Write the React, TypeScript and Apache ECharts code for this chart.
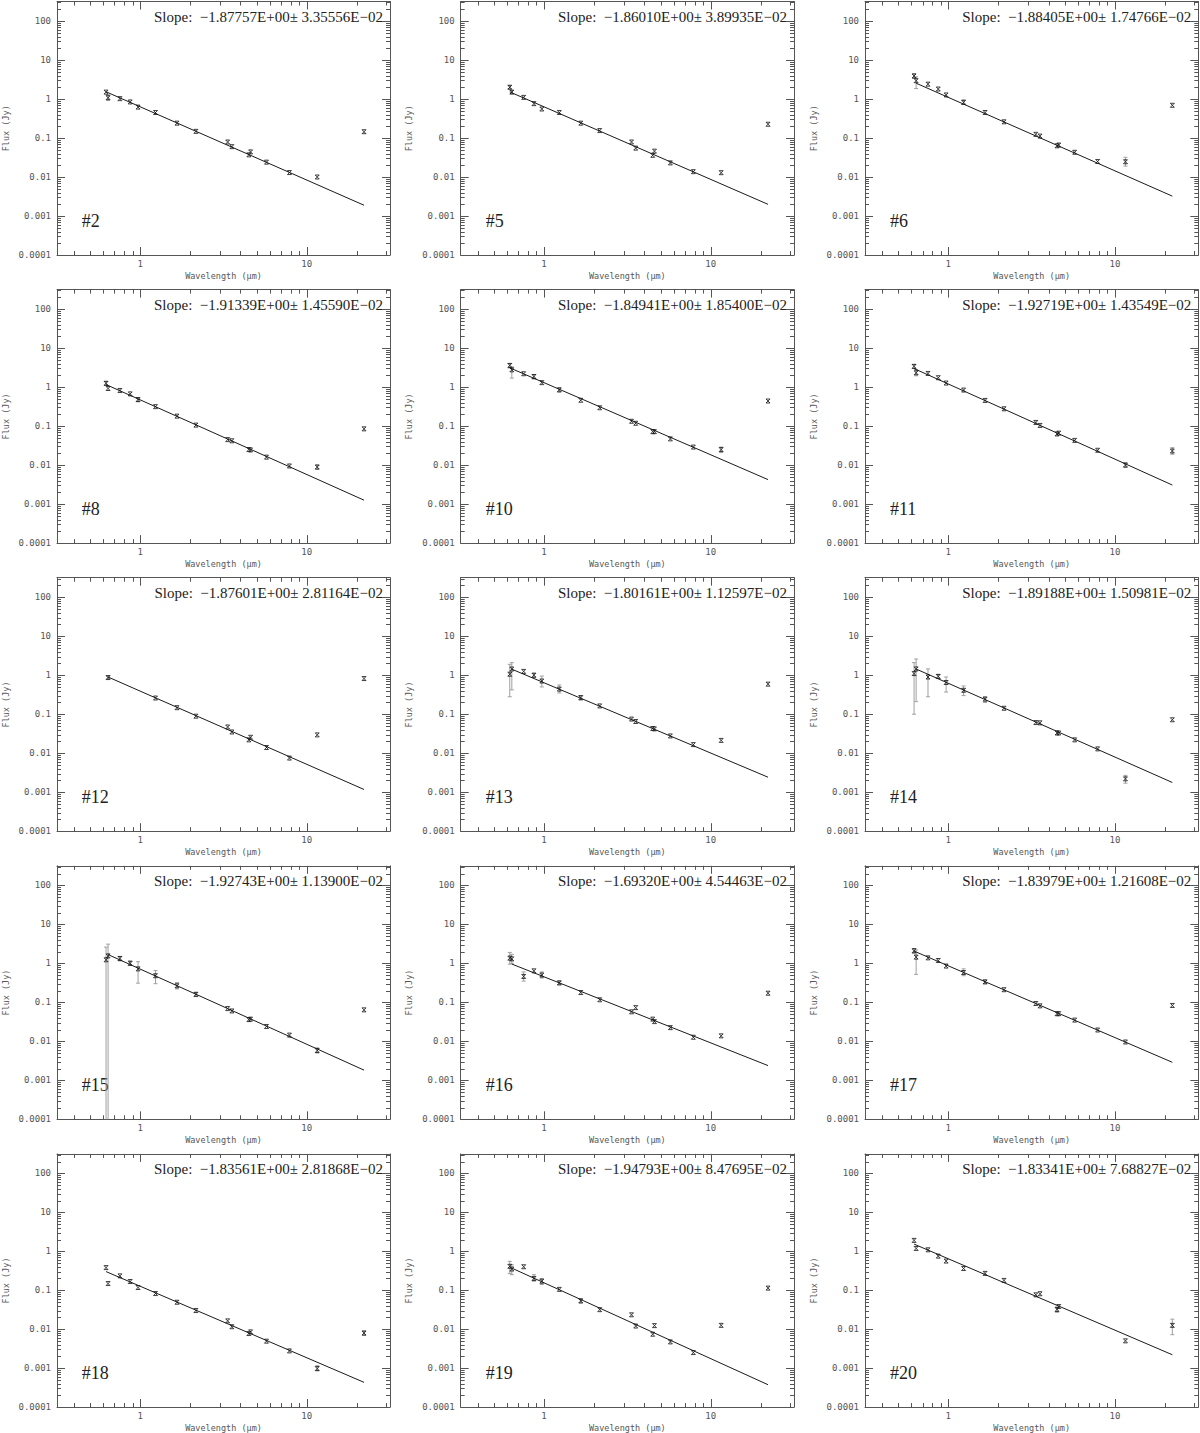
import React, { useEffect, useRef } from "react";
import * as echarts from "echarts";

// ---- data ----
const WAVELENGTHS = [0.623, 0.641, 0.755, 0.87, 0.97, 1.235, 1.662, 2.159, 3.35, 3.55, 4.49, 4.6, 5.73, 7.87, 11.56, 22.09];

const X_TICK_VALUES = [1, 10];
const X_TICK_LABELS = ["1", "10"];
const Y_TICK_VALUES = [0.0001, 0.001, 0.01, 0.1, 1, 10, 100];
const Y_TICK_LABELS = ["0.0001", "0.001", "0.01", "0.1", "1", "10", "100"];
const X_MINOR_TICKS = [0.4, 0.5, 0.6, 0.7, 0.8, 0.9, 2, 3, 4, 5, 6, 7, 8, 9, 20, 30];
const Y_MINOR_MULT = [2, 3, 4, 5, 6, 7, 8, 9];

const LABELS = ["#2", "#5", "#6", "#8", "#10", "#11", "#12", "#13", "#14", "#15", "#16", "#17", "#18", "#19", "#20"];
const SLOPE_TEXT = [
  ["−1.87757E+00", "3.35556E−02"],
  ["−1.86010E+00", "3.89935E−02"],
  ["−1.88405E+00", "1.74766E−02"],
  ["−1.91339E+00", "1.45590E−02"],
  ["−1.84941E+00", "1.85400E−02"],
  ["−1.92719E+00", "1.43549E−02"],
  ["−1.87601E+00", "2.81164E−02"],
  ["−1.80161E+00", "1.12597E−02"],
  ["−1.89188E+00", "1.50981E−02"],
  ["−1.92743E+00", "1.13900E−02"],
  ["−1.69320E+00", "4.54463E−02"],
  ["−1.83979E+00", "1.21608E−02"],
  ["−1.83561E+00", "2.81868E−02"],
  ["−1.94793E+00", "8.47695E−02"],
  ["−1.83341E+00", "7.68827E−02"],
];
const SLOPES = [-1.87757, -1.8601, -1.88405, -1.91339, -1.84941, -1.92719, -1.87601, -1.80161, -1.89188, -1.92743, -1.6932, -1.83979, -1.83561, -1.94793, -1.83341];
// fitted flux at 1 micron, and fit start wavelength
const FIT_AMP = [0.63, 0.63, 1.1, 0.47, 1.3, 1.2, 0.39, 0.64, 0.62, 0.71, 0.45, 0.86, 0.126, 0.155, 0.64];
const FIT_FROM = [0.623, 0.623, 0.641, 0.623, 0.623, 0.623, 0.641, 0.641, 0.641, 0.641, 0.641, 0.623, 0.623, 0.641, 0.623];
const FIT_TO = 22.09;

const F2 = [1.5, 1.08, 1.02, 0.84, 0.62, 0.45, 0.24, 0.148, 0.079, 0.06, 0.037, 0.044, 0.024, 0.013, 0.01, 0.145];
const F5 = [2.0, 1.5, 1.1, 0.76, 0.555, 0.45, 0.24, 0.155, 0.079, 0.055, 0.036, 0.046, 0.023, 0.0137, 0.0129, 0.225];
const F6 = [3.9, 2.95, 2.4, 1.8, 1.27, 0.82, 0.45, 0.26, 0.124, 0.112, 0.063, 0.066, 0.043, 0.025, 0.0246, 0.69];
const F8 = [1.25, 0.92, 0.82, 0.67, 0.48, 0.315, 0.18, 0.106, 0.045, 0.042, 0.025, 0.0245, 0.016, 0.0095, 0.0089, 0.085];
const F10 = [3.6, 2.77, 2.2, 1.87, 1.3, 0.85, 0.46, 0.295, 0.133, 0.118, 0.072, 0.072, 0.047, 0.029, 0.025, 0.44];
const F11 = [3.4, 2.33, 2.24, 1.74, 1.27, 0.84, 0.455, 0.278, 0.124, 0.104, 0.063, 0.066, 0.043, 0.024, 0.01, 0.023];
const F12 = [null, 0.87, null, null, null, 0.26, 0.147, 0.089, 0.047, 0.035, 0.022, 0.0256, 0.014, 0.0075, 0.0295, 0.82];
const F13 = [1.06, 1.44, 1.25, 1.0, 0.71, 0.44, 0.266, 0.163, 0.075, 0.065, 0.043, 0.042, 0.0277, 0.0166, 0.0213, 0.59];
const F14 = [1.1, 1.45, 0.9, 0.93, 0.65, 0.41, 0.243, 0.142, 0.061, 0.06, 0.033, 0.033, 0.022, 0.0129, 0.0022, 0.072];
const F15 = [1.23, 1.55, 1.33, 1.0, 0.72, 0.48, 0.265, 0.16, 0.069, 0.06, 0.036, 0.037, 0.024, 0.0144, 0.0058, 0.064];
const F16 = [1.36, 1.3, 0.46, 0.64, 0.5, 0.315, 0.178, 0.116, 0.057, 0.073, 0.037, 0.032, 0.0224, 0.0127, 0.0138, 0.171];
const F17 = [2.1, 1.44, 1.38, 1.18, 0.85, 0.58, 0.334, 0.21, 0.093, 0.081, 0.051, 0.051, 0.035, 0.0195, 0.0096, 0.083];
const F18 = [0.38, 0.148, 0.233, 0.167, 0.117, 0.082, 0.049, 0.03, 0.0163, 0.0115, 0.0077, 0.0085, 0.0049, 0.00276, 0.00097, 0.0079];
const F19 = [0.41, 0.35, 0.4, 0.2, 0.17, 0.105, 0.053, 0.0316, 0.0233, 0.012, 0.0074, 0.0123, 0.0047, 0.0025, 0.0125, 0.113];
const F20 = [1.9, 1.18, 1.09, 0.75, 0.56, 0.36, 0.27, 0.178, 0.076, 0.081, 0.032, 0.038, null, null, 0.005, 0.0125];

// error bars: [wavelength index, low, high]
const E2 = [[1, 0.92, 1.28]];
const E5 = [[0, 1.85, 2.2], [1, 1.38, 1.65]];
const E6 = [[0, 3.4, 4.4], [1, 1.85, 3.7], [5, 0.72, 0.95], [14, 0.019, 0.032]];
const E8 = [[0, 1.1, 1.4], [4, 0.42, 0.52], [14, 0.0079, 0.0101]];
const E10 = [[0, 3.1, 4.0], [1, 1.7, 3.3], [3, 1.6, 2.1], [5, 0.75, 0.95], [14, 0.021, 0.029]];
const E11 = [[0, 3.0, 3.8], [1, 1.95, 2.8], [14, 0.0088, 0.0115], [15, 0.019, 0.028]];
const E12 = [[1, 0.8, 0.95]];
const E13 = [[0, 0.28, 1.9], [1, 0.42, 2.1], [3, 0.88, 1.12], [4, 0.5, 0.95], [5, 0.35, 0.56], [6, 0.23, 0.3]];
const E14 = [[0, 0.1, 2.1], [1, 0.21, 2.6], [2, 0.28, 1.45], [3, 0.82, 1.05], [4, 0.37, 0.9], [5, 0.3, 0.53], [6, 0.2, 0.28], [14, 0.0017, 0.0027]];
const E15 = [[0, 0.000001, 2.6], [1, 0.000001, 3.1], [2, 1.15, 1.5], [3, 0.88, 1.15], [4, 0.31, 1.1], [5, 0.3, 0.65], [6, 0.22, 0.32], [7, 0.14, 0.18], [14, 0.005, 0.0068]];
const E16 = [[0, 0.95, 1.9], [1, 1.0, 1.7], [2, 0.35, 0.6], [4, 0.42, 0.6], [5, 0.28, 0.35]];
const E17 = [[0, 1.8, 2.4], [1, 0.52, 2.2], [5, 0.48, 0.72], [6, 0.3, 0.37]];
const E18 = [[14, 0.00085, 0.00115], [15, 0.007, 0.009]];
const E19 = [[0, 0.27, 0.55], [1, 0.25, 0.45], [3, 0.17, 0.25], [4, 0.14, 0.2], [6, 0.047, 0.06]];
const E20 = [[10, 0.027, 0.037], [15, 0.0072, 0.018]];

const FLUXES = [F2, F5, F6, F8, F10, F11, F12, F13, F14, F15, F16, F17, F18, F19, F20];
const ERRORS = [E2, E5, E6, E8, E10, E11, E12, E13, E14, E15, E16, E17, E18, E19, E20];

// ---- layout ----
const COL_LEFT = [56.7, 460.7, 865];
const ROW_TOP0 = 1.5;
const ROW_STEP = 288.1;
const PLOT_W = 333.3;
const PLOT_H = 253.5;
const X_MIN = Math.pow(10, -0.5);
const X_MAX = Math.pow(10, 1.5);
const Y_MIN = 0.0001;
const Y_MAX = Math.pow(10, 2.5);

const AXIS_COLOR = "#555555";
const TICK_FONT = "DejaVu Sans Mono";
const ERR_COLOR = "#a0a0a0";
const MINOR_LEN = 4;
const MAJOR_LEN = 8;

function labelFor(v: number, values: number[], labels: string[]) {
  const lv = Math.log10(v);
  for (let k = 0; k < values.length; k++) {
    if (Math.abs(lv - Math.log10(values[k])) < 1e-6) return labels[k];
  }
  return "";
}

function buildOption() {
  const grids: any[] = [];
  const xAxes: any[] = [];
  const yAxes: any[] = [];
  const series: any[] = [];
  const graphics: any[] = [];

  const yMinorValues: number[] = [];
  for (let k = -4; k <= 2; k++) {
    Y_MINOR_MULT.forEach((m) => {
      const v = m * Math.pow(10, k);
      if (v < Y_MAX) yMinorValues.push(v);
    });
  }

  for (let i = 0; i < 15; i++) {
    const col = i % 3;
    const row = Math.floor(i / 3);
    const left = COL_LEFT[col];
    const top = ROW_TOP0 + row * ROW_STEP;
    grids.push({ left, top, width: PLOT_W, height: PLOT_H, containLabel: false });

    const axisCommon = {
      type: "log",
      logBase: 10,
      gridIndex: i,
      axisLine: { show: true, onZero: false, lineStyle: { color: AXIS_COLOR, width: 1 } },
      axisTick: { show: false },
      splitLine: { show: false },
      minorTick: { show: false },
      minorSplitLine: { show: false },
    };
    xAxes.push({
      ...axisCommon,
      position: "bottom",
      min: X_MIN,
      max: X_MAX,
      name: "Wavelength (μm)",
      nameLocation: "middle",
      nameGap: 16,
      nameTextStyle: { fontFamily: TICK_FONT, fontSize: 8.5, color: "#555" },
      axisLabel: {
        show: true,
        margin: 4,
        fontFamily: TICK_FONT,
        fontSize: 9,
        color: "#555",
        showMinLabel: false,
        showMaxLabel: false,
        formatter: (v: number) => labelFor(v, X_TICK_VALUES, X_TICK_LABELS),
      },
    });
    xAxes.push({
      ...axisCommon,
      position: "top",
      min: X_MIN,
      max: X_MAX,
      axisLabel: { show: false },
    });
    yAxes.push({
      ...axisCommon,
      position: "left",
      min: Y_MIN,
      max: Y_MAX,
      name: "Flux (Jy)",
      nameLocation: "middle",
      nameGap: 47,
      nameRotate: 90,
      nameTextStyle: { fontFamily: TICK_FONT, fontSize: 8.5, color: "#555" },
      axisLabel: {
        show: true,
        margin: 6,
        fontFamily: TICK_FONT,
        fontSize: 9,
        color: "#555",
        showMaxLabel: false,
        formatter: (v: number) => labelFor(v, Y_TICK_VALUES, Y_TICK_LABELS),
      },
    });
    yAxes.push({
      ...axisCommon,
      position: "right",
      min: Y_MIN,
      max: Y_MAX,
      axisLabel: { show: false },
    });

    const xi = 2 * i;
    const yi = 2 * i;

    // ticks on bottom/top axes: [value, length]
    const xTickData = X_MINOR_TICKS.map((x) => [x, MINOR_LEN]).concat(X_TICK_VALUES.map((x) => [x, MAJOR_LEN]));
    series.push({
      type: "custom",
      xAxisIndex: xi,
      yAxisIndex: yi,
      silent: true,
      clip: false,
      z: 5,
      dimensions: ["x", "len"],
      encode: { x: 0 },
      data: xTickData,
      renderItem: (params: any, api: any) => {
        const cs = params.coordSys;
        const len = api.value(1);
        const px = Math.round(api.coord([api.value(0), 1])[0]) + 0.5;
        const yb = cs.y + cs.height;
        return {
          type: "group",
          children: [
            { type: "line", shape: { x1: px, y1: yb, x2: px, y2: yb - len }, style: { stroke: AXIS_COLOR, lineWidth: 1 } },
            { type: "line", shape: { x1: px, y1: cs.y, x2: px, y2: cs.y + len }, style: { stroke: AXIS_COLOR, lineWidth: 1 } },
          ],
        };
      },
    });
    // ticks on left/right axes: [value, length]
    const yTickData = yMinorValues.map((v) => [v, MINOR_LEN]).concat(Y_TICK_VALUES.map((v) => [v, MAJOR_LEN]));
    series.push({
      type: "custom",
      xAxisIndex: xi,
      yAxisIndex: yi,
      silent: true,
      clip: false,
      z: 5,
      dimensions: ["y", "len"],
      encode: { y: 0 },
      data: yTickData,
      renderItem: (params: any, api: any) => {
        const cs = params.coordSys;
        const len = api.value(1);
        const py = Math.round(api.coord([1, api.value(0)])[1]) + 0.5;
        const xr = cs.x + cs.width;
        return {
          type: "group",
          children: [
            { type: "line", shape: { x1: cs.x, y1: py, x2: cs.x + len, y2: py }, style: { stroke: AXIS_COLOR, lineWidth: 1 } },
            { type: "line", shape: { x1: xr, y1: py, x2: xr - len, y2: py }, style: { stroke: AXIS_COLOR, lineWidth: 1 } },
          ],
        };
      },
    });

    // fit line
    const a = FIT_AMP[i];
    const s = SLOPES[i];
    series.push({
      type: "line",
      xAxisIndex: xi,
      yAxisIndex: yi,
      symbol: "none",
      silent: true,
      lineStyle: { color: "#1a1a1a", width: 1 },
      data: [
        [FIT_FROM[i], a * Math.pow(FIT_FROM[i], s)],
        [FIT_TO, a * Math.pow(FIT_TO, s)],
      ],
    });

    // error bars
    series.push({
      type: "custom",
      xAxisIndex: xi,
      yAxisIndex: yi,
      silent: true,
      data: ERRORS[i].map((e) => [WAVELENGTHS[e[0]], e[1], e[2]]),
      renderItem: (params: any, api: any) => {
        const cs = params.coordSys;
        const x = api.value(0);
        const pt = api.coord([x, api.value(2)]);
        const pb = api.coord([x, api.value(1)]);
        const bottom = cs.y + cs.height;
        const clipped = pb[1] > bottom;
        const yb = clipped ? bottom : pb[1];
        const px = pt[0];
        const st = { stroke: ERR_COLOR, lineWidth: 1 };
        const children: any[] = [
          { type: "line", shape: { x1: px, y1: pt[1], x2: px, y2: yb }, style: st },
          { type: "line", shape: { x1: px - 2, y1: pt[1], x2: px + 2, y2: pt[1] }, style: st },
        ];
        if (!clipped) children.push({ type: "line", shape: { x1: px - 2, y1: yb, x2: px + 2, y2: yb }, style: st });
        return { type: "group", children };
      },
    });

    // data points
    const pts: any[] = [];
    FLUXES[i].forEach((f, k) => {
      if (f !== null) pts.push([WAVELENGTHS[k], f]);
    });
    series.push({
      type: "scatter",
      xAxisIndex: xi,
      yAxisIndex: yi,
      silent: true,
      symbol: "path://M0,0L6,0L0,6L6,6Z",
      symbolSize: [4, 4],
      itemStyle: { color: "rgba(0,0,0,0)", borderColor: "#111", borderWidth: 1 },
      data: pts,
    });

    // texts
    graphics.push({
      type: "text",
      x: left + PLOT_W - 7,
      y: top + 15,
      silent: true,
      style: {
        text: "Slope:  " + SLOPE_TEXT[i][0] + "± " + SLOPE_TEXT[i][1],
        font: '15px "Liberation Serif"',
        fill: "#222",
        textAlign: "right",
        textVerticalAlign: "middle",
      },
    });
    graphics.push({
      type: "text",
      x: left + 25,
      y: top + PLOT_H - 34,
      silent: true,
      style: {
        text: LABELS[i],
        font: '18px "Liberation Serif"',
        fill: "#222",
        textAlign: "left",
        textVerticalAlign: "middle",
      },
    });
  }

  return {
    animation: false,
    backgroundColor: "#ffffff",
    grid: grids,
    xAxis: xAxes,
    yAxis: yAxes,
    series,
    graphic: graphics,
  };
}

export default function App() {
  const ref = useRef<HTMLDivElement>(null);
  useEffect(() => {
    document.body.style.margin = "0";
    if (!ref.current) return;
    const chart = echarts.init(ref.current, null, { renderer: "svg" });
    chart.setOption(buildOption() as any);
    return () => chart.dispose();
  }, []);
  return <div ref={ref} style={{ position: "absolute", left: 0, top: 0, width: 1200, height: 1433 }} />;
}
